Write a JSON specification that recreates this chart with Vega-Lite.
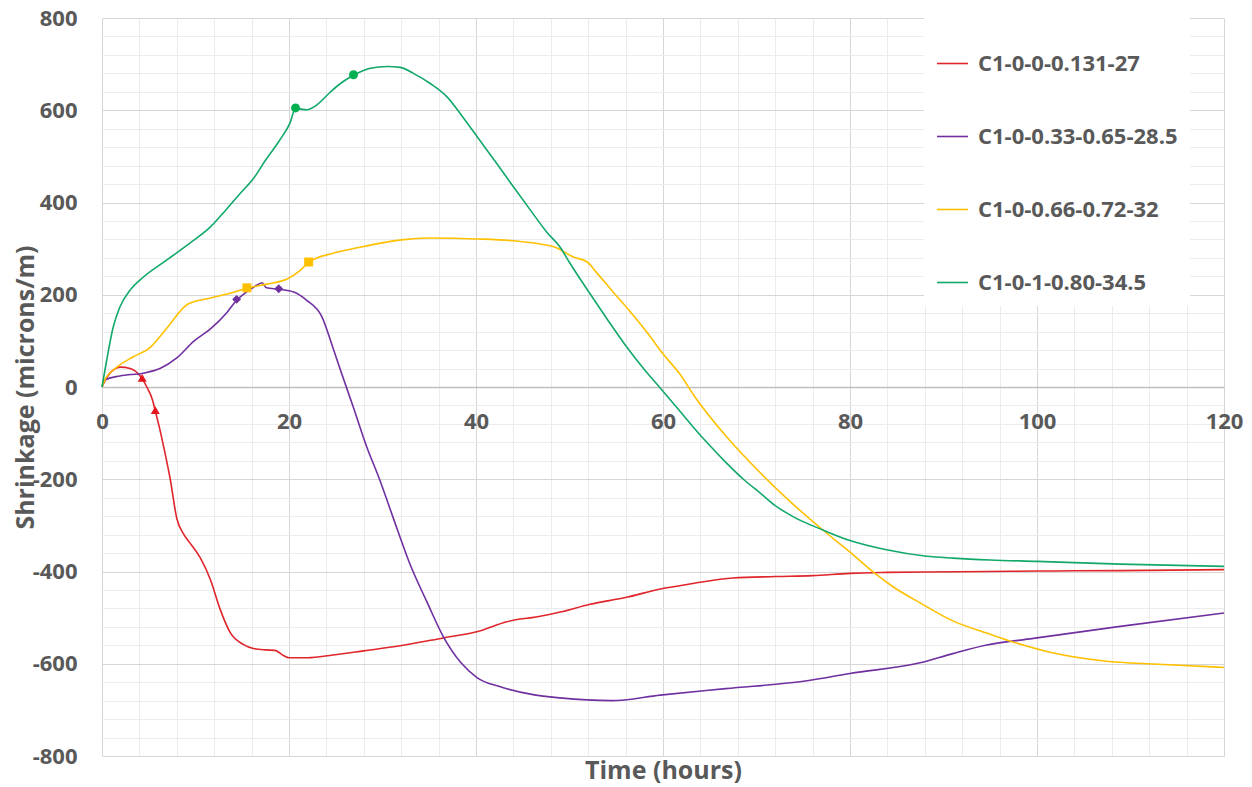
{
  "$schema": "https://vega.github.io/schema/vega-lite/v6.json",
  "width": 1122,
  "height": 738,
  "autosize": {"type": "none"},
  "padding": {"left": 102, "top": 18, "right": 28, "bottom": 31},
  "background": "white",
  "config": {"view": {"stroke": null}, "font": "Open Sans"},
  "datasets": {
    "curves": [
      {"series": "C1-0-0-0.131-27", "t": 0, "v": 0},
      {"series": "C1-0-0-0.131-27", "t": 0.5, "v": 20},
      {"series": "C1-0-0-0.131-27", "t": 1, "v": 33},
      {"series": "C1-0-0-0.131-27", "t": 2, "v": 43},
      {"series": "C1-0-0-0.131-27", "t": 3, "v": 40},
      {"series": "C1-0-0-0.131-27", "t": 4, "v": 26},
      {"series": "C1-0-0-0.131-27", "t": 4.8, "v": 0},
      {"series": "C1-0-0-0.131-27", "t": 5.4, "v": -28},
      {"series": "C1-0-0-0.131-27", "t": 5.7, "v": -52},
      {"series": "C1-0-0-0.131-27", "t": 6.2, "v": -93},
      {"series": "C1-0-0-0.131-27", "t": 6.6, "v": -130},
      {"series": "C1-0-0-0.131-27", "t": 7.3, "v": -200},
      {"series": "C1-0-0-0.131-27", "t": 8, "v": -285},
      {"series": "C1-0-0-0.131-27", "t": 8.7, "v": -318},
      {"series": "C1-0-0-0.131-27", "t": 9.4, "v": -338},
      {"series": "C1-0-0-0.131-27", "t": 10.5, "v": -370},
      {"series": "C1-0-0-0.131-27", "t": 11.6, "v": -418},
      {"series": "C1-0-0-0.131-27", "t": 12.6, "v": -480},
      {"series": "C1-0-0-0.131-27", "t": 13.7, "v": -532},
      {"series": "C1-0-0-0.131-27", "t": 15.1, "v": -558},
      {"series": "C1-0-0-0.131-27", "t": 16.2, "v": -567},
      {"series": "C1-0-0-0.131-27", "t": 17.5, "v": -570},
      {"series": "C1-0-0-0.131-27", "t": 18.5, "v": -571},
      {"series": "C1-0-0-0.131-27", "t": 19.4, "v": -582},
      {"series": "C1-0-0-0.131-27", "t": 20, "v": -587},
      {"series": "C1-0-0-0.131-27", "t": 22, "v": -587},
      {"series": "C1-0-0-0.131-27", "t": 24.7, "v": -581},
      {"series": "C1-0-0-0.131-27", "t": 28, "v": -572},
      {"series": "C1-0-0-0.131-27", "t": 31.9, "v": -561},
      {"series": "C1-0-0-0.131-27", "t": 36.5, "v": -544},
      {"series": "C1-0-0-0.131-27", "t": 40.2, "v": -530},
      {"series": "C1-0-0-0.131-27", "t": 43.3, "v": -509},
      {"series": "C1-0-0-0.131-27", "t": 44.7, "v": -503},
      {"series": "C1-0-0-0.131-27", "t": 46, "v": -500},
      {"series": "C1-0-0-0.131-27", "t": 49, "v": -488},
      {"series": "C1-0-0-0.131-27", "t": 52.2, "v": -471},
      {"series": "C1-0-0-0.131-27", "t": 56.1, "v": -456},
      {"series": "C1-0-0-0.131-27", "t": 59.7, "v": -438},
      {"series": "C1-0-0-0.131-27", "t": 63.2, "v": -426},
      {"series": "C1-0-0-0.131-27", "t": 67.5, "v": -414},
      {"series": "C1-0-0-0.131-27", "t": 72, "v": -411},
      {"series": "C1-0-0-0.131-27", "t": 76, "v": -409},
      {"series": "C1-0-0-0.131-27", "t": 80, "v": -404},
      {"series": "C1-0-0-0.131-27", "t": 83.9, "v": -402},
      {"series": "C1-0-0-0.131-27", "t": 88, "v": -401},
      {"series": "C1-0-0-0.131-27", "t": 94.7, "v": -400},
      {"series": "C1-0-0-0.131-27", "t": 100, "v": -399},
      {"series": "C1-0-0-0.131-27", "t": 108.9, "v": -398},
      {"series": "C1-0-0-0.131-27", "t": 120, "v": -396},

      {"series": "C1-0-0.33-0.65-28.5", "t": 0, "v": 0},
      {"series": "C1-0-0.33-0.65-28.5", "t": 0.3, "v": 15},
      {"series": "C1-0-0.33-0.65-28.5", "t": 1.9, "v": 24},
      {"series": "C1-0-0.33-0.65-28.5", "t": 4.4, "v": 30},
      {"series": "C1-0-0.33-0.65-28.5", "t": 6.2, "v": 40},
      {"series": "C1-0-0.33-0.65-28.5", "t": 8, "v": 63},
      {"series": "C1-0-0.33-0.65-28.5", "t": 9.8, "v": 99},
      {"series": "C1-0-0.33-0.65-28.5", "t": 11.6, "v": 126},
      {"series": "C1-0-0.33-0.65-28.5", "t": 13.3, "v": 160},
      {"series": "C1-0-0.33-0.65-28.5", "t": 14.4, "v": 188},
      {"series": "C1-0-0.33-0.65-28.5", "t": 15.5, "v": 207},
      {"series": "C1-0-0.33-0.65-28.5", "t": 16.6, "v": 221},
      {"series": "C1-0-0.33-0.65-28.5", "t": 17.1, "v": 226},
      {"series": "C1-0-0.33-0.65-28.5", "t": 17.6, "v": 215},
      {"series": "C1-0-0.33-0.65-28.5", "t": 18.9, "v": 212},
      {"series": "C1-0-0.33-0.65-28.5", "t": 20.5, "v": 206},
      {"series": "C1-0-0.33-0.65-28.5", "t": 21.9, "v": 188},
      {"series": "C1-0-0.33-0.65-28.5", "t": 23.5, "v": 153},
      {"series": "C1-0-0.33-0.65-28.5", "t": 24.7, "v": 85},
      {"series": "C1-0-0.33-0.65-28.5", "t": 25.5, "v": 37},
      {"series": "C1-0-0.33-0.65-28.5", "t": 26.9, "v": -45},
      {"series": "C1-0-0.33-0.65-28.5", "t": 28.3, "v": -129},
      {"series": "C1-0-0.33-0.65-28.5", "t": 29.7, "v": -201},
      {"series": "C1-0-0.33-0.65-28.5", "t": 31.1, "v": -281},
      {"series": "C1-0-0.33-0.65-28.5", "t": 32.9, "v": -382},
      {"series": "C1-0-0.33-0.65-28.5", "t": 34.8, "v": -468},
      {"series": "C1-0-0.33-0.65-28.5", "t": 36.5, "v": -541},
      {"series": "C1-0-0.33-0.65-28.5", "t": 38.4, "v": -598},
      {"series": "C1-0-0.33-0.65-28.5", "t": 40.1, "v": -630},
      {"series": "C1-0-0.33-0.65-28.5", "t": 42.6, "v": -650},
      {"series": "C1-0-0.33-0.65-28.5", "t": 46.1, "v": -667},
      {"series": "C1-0-0.33-0.65-28.5", "t": 49, "v": -674},
      {"series": "C1-0-0.33-0.65-28.5", "t": 54.5, "v": -680},
      {"series": "C1-0-0.33-0.65-28.5", "t": 59.7, "v": -668},
      {"series": "C1-0-0.33-0.65-28.5", "t": 66.7, "v": -654},
      {"series": "C1-0-0.33-0.65-28.5", "t": 75.4, "v": -637},
      {"series": "C1-0-0.33-0.65-28.5", "t": 80, "v": -621},
      {"series": "C1-0-0.33-0.65-28.5", "t": 87.5, "v": -598},
      {"series": "C1-0-0.33-0.65-28.5", "t": 91, "v": -578},
      {"series": "C1-0-0.33-0.65-28.5", "t": 94.5, "v": -560},
      {"series": "C1-0-0.33-0.65-28.5", "t": 99.6, "v": -545},
      {"series": "C1-0-0.33-0.65-28.5", "t": 108.9, "v": -519},
      {"series": "C1-0-0.33-0.65-28.5", "t": 120, "v": -490},

      {"series": "C1-0-0.66-0.72-32", "t": 0, "v": 0},
      {"series": "C1-0-0.66-0.72-32", "t": 0.3, "v": 15},
      {"series": "C1-0-0.66-0.72-32", "t": 1.6, "v": 43},
      {"series": "C1-0-0.66-0.72-32", "t": 3.3, "v": 65},
      {"series": "C1-0-0.66-0.72-32", "t": 5.1, "v": 85},
      {"series": "C1-0-0.66-0.72-32", "t": 6.9, "v": 127},
      {"series": "C1-0-0.66-0.72-32", "t": 9.2, "v": 180},
      {"series": "C1-0-0.66-0.72-32", "t": 11.6, "v": 193},
      {"series": "C1-0-0.66-0.72-32", "t": 14, "v": 205},
      {"series": "C1-0-0.66-0.72-32", "t": 15.5, "v": 214},
      {"series": "C1-0-0.66-0.72-32", "t": 17.6, "v": 223},
      {"series": "C1-0-0.66-0.72-32", "t": 19.8, "v": 234},
      {"series": "C1-0-0.66-0.72-32", "t": 21.2, "v": 253},
      {"series": "C1-0-0.66-0.72-32", "t": 22.1, "v": 270},
      {"series": "C1-0-0.66-0.72-32", "t": 24.7, "v": 290},
      {"series": "C1-0-0.66-0.72-32", "t": 27.6, "v": 303},
      {"series": "C1-0-0.66-0.72-32", "t": 30.1, "v": 313},
      {"series": "C1-0-0.66-0.72-32", "t": 32, "v": 319},
      {"series": "C1-0-0.66-0.72-32", "t": 35.1, "v": 323},
      {"series": "C1-0-0.66-0.72-32", "t": 40.1, "v": 321},
      {"series": "C1-0-0.66-0.72-32", "t": 44, "v": 317},
      {"series": "C1-0-0.66-0.72-32", "t": 46.5, "v": 311},
      {"series": "C1-0-0.66-0.72-32", "t": 48.6, "v": 302},
      {"series": "C1-0-0.66-0.72-32", "t": 50.4, "v": 282},
      {"series": "C1-0-0.66-0.72-32", "t": 51.9, "v": 271},
      {"series": "C1-0-0.66-0.72-32", "t": 52.9, "v": 248},
      {"series": "C1-0-0.66-0.72-32", "t": 54.7, "v": 205},
      {"series": "C1-0-0.66-0.72-32", "t": 56.3, "v": 168},
      {"series": "C1-0-0.66-0.72-32", "t": 58.3, "v": 118},
      {"series": "C1-0-0.66-0.72-32", "t": 60, "v": 72},
      {"series": "C1-0-0.66-0.72-32", "t": 61.8, "v": 28},
      {"series": "C1-0-0.66-0.72-32", "t": 63.4, "v": -21},
      {"series": "C1-0-0.66-0.72-32", "t": 66.8, "v": -108},
      {"series": "C1-0-0.66-0.72-32", "t": 70.4, "v": -186},
      {"series": "C1-0-0.66-0.72-32", "t": 73.9, "v": -254},
      {"series": "C1-0-0.66-0.72-32", "t": 77.1, "v": -310},
      {"series": "C1-0-0.66-0.72-32", "t": 80, "v": -358},
      {"series": "C1-0-0.66-0.72-32", "t": 82.6, "v": -403},
      {"series": "C1-0-0.66-0.72-32", "t": 84.6, "v": -433},
      {"series": "C1-0-0.66-0.72-32", "t": 87.5, "v": -468},
      {"series": "C1-0-0.66-0.72-32", "t": 91, "v": -507},
      {"series": "C1-0-0.66-0.72-32", "t": 94.7, "v": -534},
      {"series": "C1-0-0.66-0.72-32", "t": 97, "v": -550},
      {"series": "C1-0-0.66-0.72-32", "t": 101.4, "v": -575},
      {"series": "C1-0-0.66-0.72-32", "t": 107.2, "v": -594},
      {"series": "C1-0-0.66-0.72-32", "t": 113, "v": -601},
      {"series": "C1-0-0.66-0.72-32", "t": 120, "v": -608},

      {"series": "C1-0-1-0.80-34.5", "t": 0, "v": 0},
      {"series": "C1-0-1-0.80-34.5", "t": 0.5, "v": 58},
      {"series": "C1-0-1-0.80-34.5", "t": 1.2, "v": 130},
      {"series": "C1-0-1-0.80-34.5", "t": 1.9, "v": 173},
      {"series": "C1-0-1-0.80-34.5", "t": 3, "v": 210},
      {"series": "C1-0-1-0.80-34.5", "t": 4.4, "v": 238},
      {"series": "C1-0-1-0.80-34.5", "t": 6.9, "v": 275},
      {"series": "C1-0-1-0.80-34.5", "t": 9.4, "v": 312},
      {"series": "C1-0-1-0.80-34.5", "t": 11.6, "v": 347},
      {"series": "C1-0-1-0.80-34.5", "t": 13.3, "v": 385},
      {"series": "C1-0-1-0.80-34.5", "t": 14.8, "v": 420},
      {"series": "C1-0-1-0.80-34.5", "t": 16.2, "v": 452},
      {"series": "C1-0-1-0.80-34.5", "t": 17.5, "v": 492},
      {"series": "C1-0-1-0.80-34.5", "t": 19, "v": 535},
      {"series": "C1-0-1-0.80-34.5", "t": 20.1, "v": 572},
      {"series": "C1-0-1-0.80-34.5", "t": 20.7, "v": 604},
      {"series": "C1-0-1-0.80-34.5", "t": 21.9, "v": 601},
      {"series": "C1-0-1-0.80-34.5", "t": 22.8, "v": 609},
      {"series": "C1-0-1-0.80-34.5", "t": 24.4, "v": 639},
      {"series": "C1-0-1-0.80-34.5", "t": 25.5, "v": 658},
      {"series": "C1-0-1-0.80-34.5", "t": 26.9, "v": 676},
      {"series": "C1-0-1-0.80-34.5", "t": 28.7, "v": 691},
      {"series": "C1-0-1-0.80-34.5", "t": 30.5, "v": 695},
      {"series": "C1-0-1-0.80-34.5", "t": 31.9, "v": 693},
      {"series": "C1-0-1-0.80-34.5", "t": 33.3, "v": 680},
      {"series": "C1-0-1-0.80-34.5", "t": 35.1, "v": 658},
      {"series": "C1-0-1-0.80-34.5", "t": 36.9, "v": 629},
      {"series": "C1-0-1-0.80-34.5", "t": 38.6, "v": 585},
      {"series": "C1-0-1-0.80-34.5", "t": 40.4, "v": 535},
      {"series": "C1-0-1-0.80-34.5", "t": 42.2, "v": 485},
      {"series": "C1-0-1-0.80-34.5", "t": 44, "v": 434},
      {"series": "C1-0-1-0.80-34.5", "t": 45.8, "v": 384},
      {"series": "C1-0-1-0.80-34.5", "t": 47.6, "v": 335},
      {"series": "C1-0-1-0.80-34.5", "t": 49, "v": 303},
      {"series": "C1-0-1-0.80-34.5", "t": 50, "v": 270},
      {"series": "C1-0-1-0.80-34.5", "t": 52, "v": 208},
      {"series": "C1-0-1-0.80-34.5", "t": 54, "v": 148},
      {"series": "C1-0-1-0.80-34.5", "t": 56, "v": 90},
      {"series": "C1-0-1-0.80-34.5", "t": 58, "v": 38},
      {"series": "C1-0-1-0.80-34.5", "t": 59.7, "v": -2},
      {"series": "C1-0-1-0.80-34.5", "t": 61.5, "v": -45},
      {"series": "C1-0-1-0.80-34.5", "t": 63.2, "v": -86},
      {"series": "C1-0-1-0.80-34.5", "t": 65, "v": -127},
      {"series": "C1-0-1-0.80-34.5", "t": 66.8, "v": -165},
      {"series": "C1-0-1-0.80-34.5", "t": 68.6, "v": -200},
      {"series": "C1-0-1-0.80-34.5", "t": 70.4, "v": -230},
      {"series": "C1-0-1-0.80-34.5", "t": 72, "v": -257},
      {"series": "C1-0-1-0.80-34.5", "t": 73.9, "v": -281},
      {"series": "C1-0-1-0.80-34.5", "t": 77.1, "v": -310},
      {"series": "C1-0-1-0.80-34.5", "t": 80, "v": -333},
      {"series": "C1-0-1-0.80-34.5", "t": 83.9, "v": -353},
      {"series": "C1-0-1-0.80-34.5", "t": 88.2, "v": -367},
      {"series": "C1-0-1-0.80-34.5", "t": 91, "v": -371},
      {"series": "C1-0-1-0.80-34.5", "t": 95, "v": -375},
      {"series": "C1-0-1-0.80-34.5", "t": 100, "v": -378},
      {"series": "C1-0-1-0.80-34.5", "t": 108.9, "v": -384},
      {"series": "C1-0-1-0.80-34.5", "t": 120, "v": -389}
    ],
    "markers": [
      {"marker": "C1-0-0-0.131-27", "t": 4.3, "v": 20},
      {"marker": "C1-0-0-0.131-27", "t": 5.7, "v": -50},
      {"marker": "C1-0-0.33-0.65-28.5", "t": 14.4, "v": 190},
      {"marker": "C1-0-0.33-0.65-28.5", "t": 18.9, "v": 213},
      {"marker": "C1-0-0.66-0.72-32", "t": 15.5, "v": 215},
      {"marker": "C1-0-0.66-0.72-32", "t": 22.1, "v": 271},
      {"marker": "C1-0-1-0.80-34.5", "t": 20.7, "v": 605},
      {"marker": "C1-0-1-0.80-34.5", "t": 26.9, "v": 677}
    ]
  },
  "resolve": {"axis": {"x": "independent", "y": "independent"}},
  "layer": [
    {
      "data": {"name": "markers"},
      "mark": {"type": "point", "filled": true, "size": 65, "opacity": 0},
      "encoding": {
        "x": {
          "field": "t", "type": "quantitative",
          "scale": {"domain": [0, 120], "nice": false, "zero": false},
          "axis": {
            "orient": "bottom",
            "values": [4,8,12,16,24,28,32,36,44,48,52,56,64,68,72,76,84,88,92,96,104,108,112,116],
            "grid": true, "gridColor": "#ececec", "gridWidth": 1,
            "ticks": false, "labels": false, "domain": false, "title": null
          }
        },
        "y": {
          "field": "v", "type": "quantitative",
          "scale": {"domain": [-800, 800], "nice": false, "zero": false},
          "axis": {
            "orient": "left",
            "values": [-760,-720,-680,-640,-560,-520,-480,-440,-360,-320,-280,-240,-160,-120,-80,-40,40,80,120,160,240,280,320,360,440,480,520,560,640,680,720,760],
            "grid": true, "gridColor": "#ececec", "gridWidth": 1,
            "ticks": false, "labels": false, "domain": false, "title": null
          }
        }
      }
    },
    {
      "data": {"name": "curves"},
      "mark": {"type": "line", "strokeWidth": 1.6, "interpolate": "monotone"},
      "encoding": {
        "x": {
          "field": "t", "type": "quantitative",
          "axis": {
            "orient": "bottom",
            "offset": -369,
            "values": [0, 20, 40, 60, 80, 100, 120],
            "grid": true,
            "gridColor": "#d6d6d6",
            "gridWidth": 1,
            "ticks": false,
            "tickSize": 0,
            "domain": true,
            "domainColor": "#bfbfbf",
            "domainWidth": 1.5,
            "labelFont": "Open Sans",
            "labelFontSize": 22,
            "labelFontWeight": "bold",
            "labelColor": "#595959",
            "labelPadding": 24,
            "labelFlush": false,
            "labelOverlap": false,
            "title": "Time (hours)",
            "titleFont": "Open Sans",
            "titleFontSize": 25,
            "titleFontWeight": "bold",
            "titleColor": "#595959",
            "titleX": 561,
            "titleY": 383,
            "titleAlign": "center",
            "titleBaseline": "middle"
          }
        },
        "y": {
          "field": "v", "type": "quantitative",
          "axis": {
            "orient": "left",
            "values": [-800, -600, -400, -200, 0, 200, 400, 600, 800],
            "labelExpr": "'' + datum.value",
            "grid": true,
            "gridColor": "#d6d6d6",
            "gridWidth": 1,
            "ticks": false,
            "tickSize": 0,
            "domain": false,
            "labelFont": "Open Sans",
            "labelFontSize": 22,
            "labelFontWeight": "bold",
            "labelColor": "#595959",
            "labelPadding": 25,
            "labelOverlap": false,
            "title": "Shrinkage (microns/m)",
            "titleFont": "Open Sans",
            "titleFontSize": 25,
            "titleFontWeight": "bold",
            "titleColor": "#595959",
            "titleX": -77,
            "titleY": 369,
            "titleAngle": -90,
            "titleAlign": "center",
            "titleBaseline": "middle"
          }
        },
        "color": {
          "field": "series", "type": "nominal",
          "scale": {
            "domain": ["C1-0-0-0.131-27", "C1-0-0.33-0.65-28.5", "C1-0-0.66-0.72-32", "C1-0-1-0.80-34.5"],
            "range": ["#e0252b", "#7030a0", "#ffc000", "#12a86a"]
          },
          "legend": {
            "title": " ",
            "titleFontSize": 12,
            "titlePadding": 5,
            "orient": "none",
            "legendX": 822,
            "legendY": 0,
            "fillColor": "white",
            "padding": 12,
            "symbolType": "stroke",
            "symbolSize": 961,
            "symbolStrokeWidth": 1.6,
            "labelFont": "Open Sans",
            "labelFontSize": 22,
            "labelFontWeight": "bold",
            "labelColor": "#595959",
            "labelOffset": 9,
            "labelLimit": 400,
            "rowPadding": 45
          }
        }
      }
    },
    {
      "data": {"name": "markers"},
      "mark": {"type": "point", "filled": true, "size": 80, "opacity": 1},
      "encoding": {
        "x": {"field": "t", "type": "quantitative", "axis": null},
        "y": {"field": "v", "type": "quantitative", "axis": null},
        "fill": {
          "field": "marker", "type": "nominal",
          "scale": {
            "domain": ["C1-0-1-0.80-34.5", "C1-0-0.66-0.72-32", "C1-0-0.33-0.65-28.5", "C1-0-0-0.131-27"],
            "range": ["#00b050", "#ffc000", "#7030a0", "#e3141c"]
          },
          "legend": null
        },
        "shape": {
          "field": "marker", "type": "nominal",
          "scale": {
            "domain": ["C1-0-1-0.80-34.5", "C1-0-0.66-0.72-32", "C1-0-0.33-0.65-28.5", "C1-0-0-0.131-27"],
            "range": ["circle", "square", "diamond", "triangle-up"]
          },
          "legend": null
        }
      }
    }
  ]
}
